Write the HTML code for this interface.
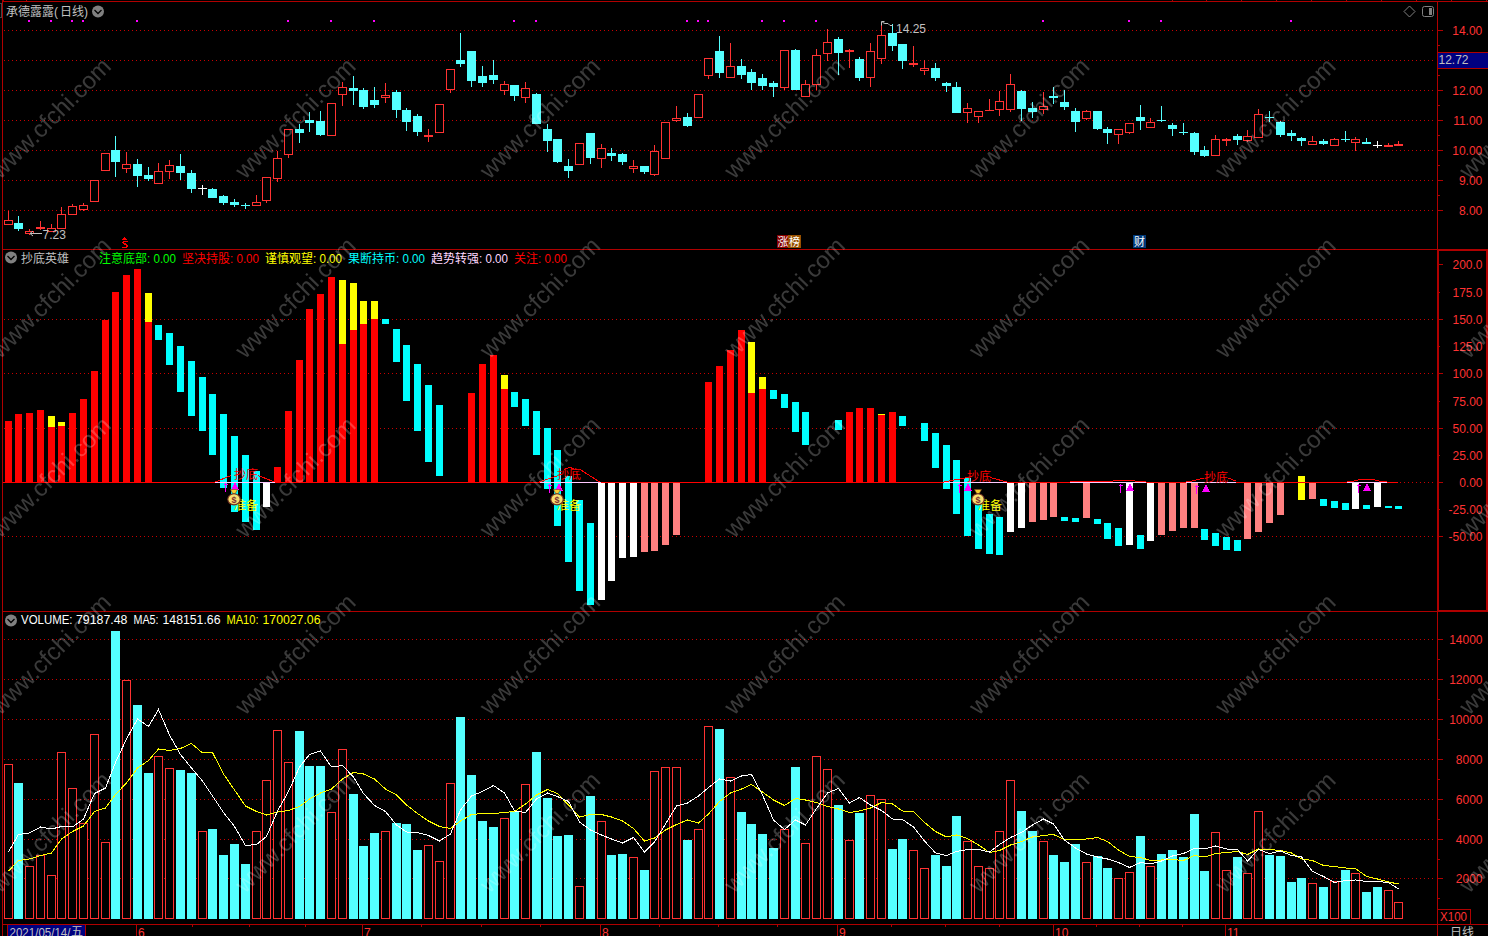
<!DOCTYPE html><html><head><meta charset="utf-8"><title>chart</title><style>html,body{margin:0;padding:0;background:#000;overflow:hidden}svg{display:block}svg text{font-family:"Liberation Sans","Noto Sans CJK SC",sans-serif}</style></head><body><svg width="1488" height="936" viewBox="0 0 1488 936" shape-rendering="crispEdges" font-family="Liberation Sans, Noto Sans CJK SC, sans-serif" font-size="12"><rect width="1488" height="936" fill="#000"/><path d="M4 30.5H1433" stroke="#c80000" stroke-width="1" stroke-dasharray="1 3" fill="none"/><path d="M4 60.5H1433" stroke="#c80000" stroke-width="1" stroke-dasharray="1 3" fill="none"/><path d="M4 90.5H1433" stroke="#c80000" stroke-width="1" stroke-dasharray="1 3" fill="none"/><path d="M4 120.5H1433" stroke="#c80000" stroke-width="1" stroke-dasharray="1 3" fill="none"/><path d="M4 150.5H1433" stroke="#c80000" stroke-width="1" stroke-dasharray="1 3" fill="none"/><path d="M4 180.5H1433" stroke="#c80000" stroke-width="1" stroke-dasharray="1 3" fill="none"/><path d="M4 210.5H1433" stroke="#c80000" stroke-width="1" stroke-dasharray="1 3" fill="none"/><path d="M4 319.5H1433" stroke="#c80000" stroke-width="1" stroke-dasharray="1 3" fill="none"/><path d="M4 373.5H1433" stroke="#c80000" stroke-width="1" stroke-dasharray="1 3" fill="none"/><path d="M4 428.5H1433" stroke="#c80000" stroke-width="1" stroke-dasharray="1 3" fill="none"/><path d="M4 536.5H1433" stroke="#c80000" stroke-width="1" stroke-dasharray="1 3" fill="none"/><path d="M4 639.5H1433" stroke="#c80000" stroke-width="1" stroke-dasharray="1 3" fill="none"/><path d="M4 679.5H1433" stroke="#c80000" stroke-width="1" stroke-dasharray="1 3" fill="none"/><path d="M4 719.5H1433" stroke="#c80000" stroke-width="1" stroke-dasharray="1 3" fill="none"/><path d="M4 759.5H1433" stroke="#c80000" stroke-width="1" stroke-dasharray="1 3" fill="none"/><path d="M4 799.5H1433" stroke="#c80000" stroke-width="1" stroke-dasharray="1 3" fill="none"/><path d="M4 839.5H1433" stroke="#c80000" stroke-width="1" stroke-dasharray="1 3" fill="none"/><path d="M4 878.5H1433" stroke="#c80000" stroke-width="1" stroke-dasharray="1 3" fill="none"/><path d="M1400 482.5H1433" stroke="#c80000" stroke-width="1" stroke-dasharray="1 3" fill="none"/><rect x="8" y="211" width="1" height="9" fill="#ff3232"/><rect x="4" y="220" width="9" height="5" fill="#ff3232"/><rect x="5" y="221" width="7" height="3" fill="#000"/><rect x="18" y="216" width="1" height="15" fill="#54ffff"/><rect x="14" y="223" width="9" height="6" fill="#54ffff"/><rect x="29" y="229" width="1" height="2" fill="#ff3232"/><rect x="29" y="234" width="1" height="1" fill="#ff3232"/><rect x="25" y="231" width="9" height="3" fill="#ff3232"/><rect x="26" y="232" width="7" height="1" fill="#000"/><rect x="40" y="221" width="1" height="9" fill="#ff3232"/><rect x="36" y="227" width="9" height="2" fill="#ff3232"/><rect x="51" y="224" width="1" height="4" fill="#ff3232"/><rect x="47" y="228" width="9" height="4" fill="#ff3232"/><rect x="48" y="229" width="7" height="2" fill="#000"/><rect x="61" y="207" width="1" height="7" fill="#ff3232"/><rect x="57" y="214" width="9" height="15" fill="#ff3232"/><rect x="58" y="215" width="7" height="13" fill="#000"/><rect x="72" y="204" width="1" height="2" fill="#ff3232"/><rect x="68" y="206" width="9" height="9" fill="#ff3232"/><rect x="69" y="207" width="7" height="7" fill="#000"/><rect x="83" y="203" width="1" height="2" fill="#ff3232"/><rect x="83" y="210" width="1" height="1" fill="#ff3232"/><rect x="79" y="205" width="9" height="5" fill="#ff3232"/><rect x="80" y="206" width="7" height="3" fill="#000"/><rect x="90" y="180" width="9" height="22" fill="#ff3232"/><rect x="91" y="181" width="7" height="20" fill="#000"/><rect x="101" y="153" width="9" height="18" fill="#ff3232"/><rect x="102" y="154" width="7" height="16" fill="#000"/><rect x="115" y="136" width="1" height="41" fill="#54ffff"/><rect x="111" y="150" width="9" height="12" fill="#54ffff"/><rect x="126" y="152" width="1" height="12" fill="#ff3232"/><rect x="126" y="169" width="1" height="4" fill="#ff3232"/><rect x="122" y="164" width="9" height="5" fill="#ff3232"/><rect x="123" y="165" width="7" height="3" fill="#000"/><rect x="137" y="159" width="1" height="28" fill="#54ffff"/><rect x="133" y="164" width="9" height="12" fill="#54ffff"/><rect x="148" y="167" width="1" height="14" fill="#54ffff"/><rect x="144" y="175" width="9" height="4" fill="#54ffff"/><rect x="158" y="163" width="1" height="8" fill="#ff3232"/><rect x="154" y="171" width="9" height="13" fill="#ff3232"/><rect x="155" y="172" width="7" height="11" fill="#000"/><rect x="169" y="160" width="1" height="5" fill="#ff3232"/><rect x="169" y="172" width="1" height="7" fill="#ff3232"/><rect x="165" y="165" width="9" height="7" fill="#ff3232"/><rect x="166" y="166" width="7" height="5" fill="#000"/><rect x="180" y="154" width="1" height="26" fill="#54ffff"/><rect x="176" y="166" width="9" height="7" fill="#54ffff"/><rect x="191" y="170" width="1" height="23" fill="#54ffff"/><rect x="187" y="173" width="9" height="16" fill="#54ffff"/><rect x="202" y="185" width="1" height="10" fill="#fff"/><rect x="198" y="188" width="9" height="1" fill="#fff"/><rect x="212" y="188" width="1" height="10" fill="#54ffff"/><rect x="208" y="189" width="9" height="9" fill="#54ffff"/><rect x="223" y="195" width="1" height="10" fill="#54ffff"/><rect x="219" y="196" width="9" height="7" fill="#54ffff"/><rect x="234" y="199" width="1" height="8" fill="#54ffff"/><rect x="230" y="202" width="9" height="3" fill="#54ffff"/><rect x="245" y="203" width="1" height="6" fill="#54ffff"/><rect x="241" y="205" width="9" height="1" fill="#54ffff"/><rect x="256" y="195" width="1" height="7" fill="#ff3232"/><rect x="252" y="202" width="9" height="4" fill="#ff3232"/><rect x="253" y="203" width="7" height="2" fill="#000"/><rect x="266" y="201" width="1" height="2" fill="#ff3232"/><rect x="262" y="177" width="9" height="24" fill="#ff3232"/><rect x="263" y="178" width="7" height="22" fill="#000"/><rect x="277" y="151" width="1" height="7" fill="#ff3232"/><rect x="277" y="179" width="1" height="3" fill="#ff3232"/><rect x="273" y="158" width="9" height="21" fill="#ff3232"/><rect x="274" y="159" width="7" height="19" fill="#000"/><rect x="288" y="155" width="1" height="3" fill="#ff3232"/><rect x="284" y="129" width="9" height="26" fill="#ff3232"/><rect x="285" y="130" width="7" height="24" fill="#000"/><rect x="299" y="124" width="1" height="19" fill="#54ffff"/><rect x="295" y="129" width="9" height="4" fill="#54ffff"/><rect x="309" y="112" width="1" height="20" fill="#54ffff"/><rect x="305" y="120" width="9" height="3" fill="#54ffff"/><rect x="320" y="111" width="1" height="25" fill="#54ffff"/><rect x="316" y="121" width="9" height="14" fill="#54ffff"/><rect x="327" y="103" width="9" height="33" fill="#ff3232"/><rect x="328" y="104" width="7" height="31" fill="#000"/><rect x="342" y="82" width="1" height="5" fill="#ff3232"/><rect x="342" y="95" width="1" height="11" fill="#ff3232"/><rect x="338" y="87" width="9" height="8" fill="#ff3232"/><rect x="339" y="88" width="7" height="6" fill="#000"/><rect x="353" y="76" width="1" height="29" fill="#54ffff"/><rect x="349" y="88" width="9" height="3" fill="#54ffff"/><rect x="363" y="88" width="1" height="21" fill="#54ffff"/><rect x="359" y="90" width="9" height="17" fill="#54ffff"/><rect x="374" y="87" width="1" height="21" fill="#54ffff"/><rect x="370" y="100" width="9" height="5" fill="#54ffff"/><rect x="385" y="83" width="1" height="12" fill="#ff3232"/><rect x="385" y="98" width="1" height="5" fill="#ff3232"/><rect x="381" y="95" width="9" height="3" fill="#ff3232"/><rect x="382" y="96" width="7" height="1" fill="#000"/><rect x="396" y="90" width="1" height="28" fill="#54ffff"/><rect x="392" y="92" width="9" height="18" fill="#54ffff"/><rect x="406" y="108" width="1" height="23" fill="#54ffff"/><rect x="402" y="110" width="9" height="12" fill="#54ffff"/><rect x="417" y="114" width="1" height="22" fill="#54ffff"/><rect x="413" y="116" width="9" height="16" fill="#54ffff"/><rect x="428" y="129" width="1" height="13" fill="#ff3232"/><rect x="424" y="135" width="9" height="2" fill="#ff3232"/><rect x="435" y="104" width="9" height="29" fill="#ff3232"/><rect x="436" y="105" width="7" height="27" fill="#000"/><rect x="450" y="90" width="1" height="3" fill="#ff3232"/><rect x="446" y="69" width="9" height="21" fill="#ff3232"/><rect x="447" y="70" width="7" height="19" fill="#000"/><rect x="460" y="33" width="1" height="34" fill="#54ffff"/><rect x="456" y="60" width="9" height="4" fill="#54ffff"/><rect x="471" y="51" width="1" height="36" fill="#54ffff"/><rect x="467" y="51" width="9" height="30" fill="#54ffff"/><rect x="482" y="66" width="1" height="21" fill="#54ffff"/><rect x="478" y="76" width="9" height="7" fill="#54ffff"/><rect x="493" y="60" width="1" height="24" fill="#54ffff"/><rect x="489" y="75" width="9" height="5" fill="#54ffff"/><rect x="504" y="81" width="1" height="3" fill="#ff3232"/><rect x="504" y="91" width="1" height="4" fill="#ff3232"/><rect x="500" y="84" width="9" height="7" fill="#ff3232"/><rect x="501" y="85" width="7" height="5" fill="#000"/><rect x="514" y="85" width="1" height="16" fill="#54ffff"/><rect x="510" y="85" width="9" height="11" fill="#54ffff"/><rect x="525" y="82" width="1" height="6" fill="#ff3232"/><rect x="525" y="98" width="1" height="5" fill="#ff3232"/><rect x="521" y="88" width="9" height="10" fill="#ff3232"/><rect x="522" y="89" width="7" height="8" fill="#000"/><rect x="536" y="93" width="1" height="31" fill="#54ffff"/><rect x="532" y="94" width="9" height="30" fill="#54ffff"/><rect x="547" y="124" width="1" height="28" fill="#54ffff"/><rect x="543" y="129" width="9" height="12" fill="#54ffff"/><rect x="557" y="139" width="1" height="24" fill="#54ffff"/><rect x="553" y="139" width="9" height="23" fill="#54ffff"/><rect x="568" y="159" width="1" height="19" fill="#54ffff"/><rect x="564" y="166" width="9" height="5" fill="#54ffff"/><rect x="575" y="143" width="9" height="22" fill="#ff3232"/><rect x="576" y="144" width="7" height="20" fill="#000"/><rect x="590" y="133" width="1" height="31" fill="#54ffff"/><rect x="586" y="133" width="9" height="25" fill="#54ffff"/><rect x="601" y="144" width="1" height="4" fill="#ff3232"/><rect x="601" y="159" width="1" height="9" fill="#ff3232"/><rect x="597" y="148" width="9" height="11" fill="#ff3232"/><rect x="598" y="149" width="7" height="9" fill="#000"/><rect x="611" y="148" width="1" height="13" fill="#54ffff"/><rect x="607" y="153" width="9" height="3" fill="#54ffff"/><rect x="622" y="153" width="1" height="12" fill="#54ffff"/><rect x="618" y="154" width="9" height="8" fill="#54ffff"/><rect x="633" y="160" width="1" height="6" fill="#ff3232"/><rect x="633" y="169" width="1" height="4" fill="#ff3232"/><rect x="629" y="166" width="9" height="3" fill="#ff3232"/><rect x="630" y="167" width="7" height="1" fill="#000"/><rect x="644" y="166" width="1" height="8" fill="#54ffff"/><rect x="640" y="166" width="9" height="6" fill="#54ffff"/><rect x="654" y="145" width="1" height="6" fill="#ff3232"/><rect x="654" y="175" width="1" height="1" fill="#ff3232"/><rect x="650" y="151" width="9" height="24" fill="#ff3232"/><rect x="651" y="152" width="7" height="22" fill="#000"/><rect x="661" y="122" width="9" height="37" fill="#ff3232"/><rect x="662" y="123" width="7" height="35" fill="#000"/><rect x="676" y="106" width="1" height="12" fill="#ff3232"/><rect x="676" y="121" width="1" height="1" fill="#ff3232"/><rect x="672" y="118" width="9" height="3" fill="#ff3232"/><rect x="673" y="119" width="7" height="1" fill="#000"/><rect x="687" y="113" width="1" height="14" fill="#54ffff"/><rect x="683" y="117" width="9" height="9" fill="#54ffff"/><rect x="694" y="94" width="9" height="24" fill="#ff3232"/><rect x="695" y="95" width="7" height="22" fill="#000"/><rect x="708" y="76" width="1" height="3" fill="#ff3232"/><rect x="704" y="58" width="9" height="18" fill="#ff3232"/><rect x="705" y="59" width="7" height="16" fill="#000"/><rect x="719" y="36" width="1" height="42" fill="#54ffff"/><rect x="715" y="51" width="9" height="22" fill="#54ffff"/><rect x="730" y="43" width="1" height="23" fill="#ff3232"/><rect x="726" y="66" width="9" height="12" fill="#ff3232"/><rect x="727" y="67" width="7" height="10" fill="#000"/><rect x="741" y="59" width="1" height="20" fill="#54ffff"/><rect x="737" y="66" width="9" height="9" fill="#54ffff"/><rect x="751" y="69" width="1" height="21" fill="#54ffff"/><rect x="747" y="72" width="9" height="11" fill="#54ffff"/><rect x="762" y="74" width="1" height="16" fill="#54ffff"/><rect x="758" y="78" width="9" height="8" fill="#54ffff"/><rect x="773" y="81" width="1" height="16" fill="#54ffff"/><rect x="769" y="83" width="9" height="4" fill="#54ffff"/><rect x="784" y="88" width="1" height="2" fill="#ff3232"/><rect x="780" y="50" width="9" height="38" fill="#ff3232"/><rect x="781" y="51" width="7" height="36" fill="#000"/><rect x="795" y="49" width="1" height="41" fill="#54ffff"/><rect x="791" y="50" width="9" height="40" fill="#54ffff"/><rect x="805" y="80" width="1" height="4" fill="#ff3232"/><rect x="801" y="84" width="9" height="13" fill="#ff3232"/><rect x="802" y="85" width="7" height="11" fill="#000"/><rect x="816" y="49" width="1" height="6" fill="#ff3232"/><rect x="816" y="85" width="1" height="5" fill="#ff3232"/><rect x="812" y="55" width="9" height="30" fill="#ff3232"/><rect x="813" y="56" width="7" height="28" fill="#000"/><rect x="827" y="29" width="1" height="13" fill="#ff3232"/><rect x="827" y="54" width="1" height="7" fill="#ff3232"/><rect x="823" y="42" width="9" height="12" fill="#ff3232"/><rect x="824" y="43" width="7" height="10" fill="#000"/><rect x="838" y="37" width="1" height="38" fill="#54ffff"/><rect x="834" y="39" width="9" height="14" fill="#54ffff"/><rect x="849" y="49" width="1" height="19" fill="#ff3232"/><rect x="845" y="50" width="9" height="2" fill="#ff3232"/><rect x="859" y="57" width="1" height="24" fill="#54ffff"/><rect x="855" y="59" width="9" height="19" fill="#54ffff"/><rect x="870" y="43" width="1" height="8" fill="#ff3232"/><rect x="870" y="78" width="1" height="9" fill="#ff3232"/><rect x="866" y="51" width="9" height="27" fill="#ff3232"/><rect x="867" y="52" width="7" height="25" fill="#000"/><rect x="881" y="22" width="1" height="13" fill="#ff3232"/><rect x="881" y="59" width="1" height="5" fill="#ff3232"/><rect x="877" y="35" width="9" height="24" fill="#ff3232"/><rect x="878" y="36" width="7" height="22" fill="#000"/><rect x="892" y="24" width="1" height="27" fill="#54ffff"/><rect x="888" y="33" width="9" height="13" fill="#54ffff"/><rect x="902" y="44" width="1" height="25" fill="#54ffff"/><rect x="898" y="44" width="9" height="17" fill="#54ffff"/><rect x="913" y="46" width="1" height="21" fill="#ff3232"/><rect x="909" y="63" width="9" height="2" fill="#ff3232"/><rect x="924" y="60" width="1" height="8" fill="#ff3232"/><rect x="924" y="71" width="1" height="4" fill="#ff3232"/><rect x="920" y="68" width="9" height="3" fill="#ff3232"/><rect x="921" y="69" width="7" height="1" fill="#000"/><rect x="935" y="63" width="1" height="18" fill="#54ffff"/><rect x="931" y="68" width="9" height="10" fill="#54ffff"/><rect x="946" y="82" width="1" height="10" fill="#54ffff"/><rect x="942" y="83" width="9" height="3" fill="#54ffff"/><rect x="956" y="82" width="1" height="31" fill="#54ffff"/><rect x="952" y="87" width="9" height="26" fill="#54ffff"/><rect x="967" y="103" width="1" height="5" fill="#ff3232"/><rect x="967" y="113" width="1" height="10" fill="#ff3232"/><rect x="963" y="108" width="9" height="5" fill="#ff3232"/><rect x="964" y="109" width="7" height="3" fill="#000"/><rect x="978" y="117" width="1" height="6" fill="#ff3232"/><rect x="974" y="111" width="9" height="6" fill="#ff3232"/><rect x="975" y="112" width="7" height="4" fill="#000"/><rect x="989" y="99" width="1" height="12" fill="#ff3232"/><rect x="985" y="110" width="9" height="1" fill="#ff3232"/><rect x="999" y="91" width="1" height="10" fill="#ff3232"/><rect x="999" y="110" width="1" height="6" fill="#ff3232"/><rect x="995" y="101" width="9" height="9" fill="#ff3232"/><rect x="996" y="102" width="7" height="7" fill="#000"/><rect x="1010" y="74" width="1" height="10" fill="#ff3232"/><rect x="1010" y="110" width="1" height="2" fill="#ff3232"/><rect x="1006" y="84" width="9" height="26" fill="#ff3232"/><rect x="1007" y="85" width="7" height="24" fill="#000"/><rect x="1021" y="90" width="1" height="31" fill="#54ffff"/><rect x="1017" y="91" width="9" height="18" fill="#54ffff"/><rect x="1032" y="102" width="1" height="16" fill="#54ffff"/><rect x="1028" y="108" width="9" height="4" fill="#54ffff"/><rect x="1043" y="92" width="1" height="14" fill="#ff3232"/><rect x="1043" y="110" width="1" height="4" fill="#ff3232"/><rect x="1039" y="106" width="9" height="4" fill="#ff3232"/><rect x="1040" y="107" width="7" height="2" fill="#000"/><rect x="1053" y="87" width="1" height="17" fill="#54ffff"/><rect x="1049" y="96" width="9" height="2" fill="#54ffff"/><rect x="1064" y="90" width="1" height="20" fill="#54ffff"/><rect x="1060" y="102" width="9" height="5" fill="#54ffff"/><rect x="1075" y="108" width="1" height="24" fill="#54ffff"/><rect x="1071" y="111" width="9" height="11" fill="#54ffff"/><rect x="1086" y="110" width="1" height="1" fill="#ff3232"/><rect x="1086" y="119" width="1" height="1" fill="#ff3232"/><rect x="1082" y="111" width="9" height="8" fill="#ff3232"/><rect x="1083" y="112" width="7" height="6" fill="#000"/><rect x="1097" y="111" width="1" height="19" fill="#54ffff"/><rect x="1093" y="111" width="9" height="18" fill="#54ffff"/><rect x="1107" y="127" width="1" height="17" fill="#54ffff"/><rect x="1103" y="129" width="9" height="4" fill="#54ffff"/><rect x="1118" y="135" width="1" height="9" fill="#ff3232"/><rect x="1114" y="129" width="9" height="6" fill="#ff3232"/><rect x="1115" y="130" width="7" height="4" fill="#000"/><rect x="1129" y="133" width="1" height="1" fill="#ff3232"/><rect x="1125" y="123" width="9" height="10" fill="#ff3232"/><rect x="1126" y="124" width="7" height="8" fill="#000"/><rect x="1140" y="105" width="1" height="25" fill="#54ffff"/><rect x="1136" y="117" width="9" height="4" fill="#54ffff"/><rect x="1150" y="118" width="1" height="4" fill="#ff3232"/><rect x="1146" y="122" width="9" height="6" fill="#ff3232"/><rect x="1147" y="123" width="7" height="4" fill="#000"/><rect x="1161" y="106" width="1" height="16" fill="#54ffff"/><rect x="1157" y="120" width="9" height="1" fill="#54ffff"/><rect x="1172" y="123" width="1" height="13" fill="#54ffff"/><rect x="1168" y="125" width="9" height="4" fill="#54ffff"/><rect x="1183" y="123" width="1" height="12" fill="#54ffff"/><rect x="1179" y="132" width="9" height="1" fill="#54ffff"/><rect x="1194" y="132" width="1" height="23" fill="#54ffff"/><rect x="1190" y="133" width="9" height="19" fill="#54ffff"/><rect x="1204" y="146" width="1" height="11" fill="#54ffff"/><rect x="1200" y="150" width="9" height="6" fill="#54ffff"/><rect x="1215" y="135" width="1" height="4" fill="#ff3232"/><rect x="1211" y="139" width="9" height="17" fill="#ff3232"/><rect x="1212" y="140" width="7" height="15" fill="#000"/><rect x="1226" y="138" width="1" height="8" fill="#ff3232"/><rect x="1222" y="139" width="9" height="2" fill="#ff3232"/><rect x="1237" y="134" width="1" height="11" fill="#54ffff"/><rect x="1233" y="136" width="9" height="4" fill="#54ffff"/><rect x="1247" y="130" width="1" height="6" fill="#ff3232"/><rect x="1247" y="141" width="1" height="1" fill="#ff3232"/><rect x="1243" y="136" width="9" height="5" fill="#ff3232"/><rect x="1244" y="137" width="7" height="3" fill="#000"/><rect x="1258" y="109" width="1" height="5" fill="#ff3232"/><rect x="1254" y="114" width="9" height="24" fill="#ff3232"/><rect x="1255" y="115" width="7" height="22" fill="#000"/><rect x="1269" y="111" width="1" height="11" fill="#54ffff"/><rect x="1265" y="117" width="9" height="1" fill="#54ffff"/><rect x="1280" y="121" width="1" height="16" fill="#54ffff"/><rect x="1276" y="122" width="9" height="13" fill="#54ffff"/><rect x="1291" y="130" width="1" height="11" fill="#54ffff"/><rect x="1287" y="133" width="9" height="3" fill="#54ffff"/><rect x="1301" y="137" width="1" height="9" fill="#54ffff"/><rect x="1297" y="138" width="9" height="3" fill="#54ffff"/><rect x="1312" y="136" width="1" height="5" fill="#ff3232"/><rect x="1308" y="141" width="9" height="4" fill="#ff3232"/><rect x="1309" y="142" width="7" height="2" fill="#000"/><rect x="1323" y="139" width="1" height="6" fill="#54ffff"/><rect x="1319" y="141" width="9" height="3" fill="#54ffff"/><rect x="1334" y="138" width="1" height="1" fill="#ff3232"/><rect x="1330" y="139" width="9" height="7" fill="#ff3232"/><rect x="1331" y="140" width="7" height="5" fill="#000"/><rect x="1345" y="131" width="1" height="11" fill="#54ffff"/><rect x="1341" y="139" width="9" height="1" fill="#54ffff"/><rect x="1355" y="137" width="1" height="2" fill="#ff3232"/><rect x="1355" y="143" width="1" height="8" fill="#ff3232"/><rect x="1351" y="139" width="9" height="4" fill="#ff3232"/><rect x="1352" y="140" width="7" height="2" fill="#000"/><rect x="1366" y="138" width="1" height="6" fill="#54ffff"/><rect x="1362" y="142" width="9" height="2" fill="#54ffff"/><rect x="1377" y="141" width="1" height="7" fill="#fff"/><rect x="1373" y="145" width="9" height="1" fill="#fff"/><rect x="1388" y="143" width="1" height="4" fill="#ff3232"/><rect x="1384" y="145" width="9" height="2" fill="#ff3232"/><rect x="1398" y="141" width="1" height="5" fill="#ff3232"/><rect x="1394" y="144" width="9" height="2" fill="#ff3232"/><rect x="28" y="20" width="2" height="2" fill="#ff00ff"/><rect x="50" y="20" width="2" height="2" fill="#ff00ff"/><rect x="71" y="20" width="2" height="2" fill="#ff00ff"/><rect x="82" y="20" width="2" height="2" fill="#ff00ff"/><rect x="136" y="20" width="2" height="2" fill="#ff00ff"/><rect x="287" y="20" width="2" height="2" fill="#ff00ff"/><rect x="330" y="20" width="2" height="2" fill="#ff00ff"/><rect x="373" y="20" width="2" height="2" fill="#ff00ff"/><rect x="513" y="20" width="2" height="2" fill="#ff00ff"/><rect x="535" y="20" width="2" height="2" fill="#ff00ff"/><rect x="686" y="20" width="2" height="2" fill="#ff00ff"/><rect x="697" y="20" width="2" height="2" fill="#ff00ff"/><rect x="707" y="20" width="2" height="2" fill="#ff00ff"/><rect x="761" y="20" width="2" height="2" fill="#ff00ff"/><rect x="783" y="20" width="2" height="2" fill="#ff00ff"/><rect x="815" y="20" width="2" height="2" fill="#ff00ff"/><rect x="1042" y="20" width="2" height="2" fill="#ff00ff"/><rect x="1128" y="20" width="2" height="2" fill="#ff00ff"/><rect x="1160" y="20" width="2" height="2" fill="#ff00ff"/><rect x="1290" y="20" width="2" height="2" fill="#ff00ff"/><rect x="5" y="421" width="7" height="61" fill="#ff0000"/><rect x="15" y="414" width="7" height="68" fill="#ff0000"/><rect x="26" y="413" width="7" height="69" fill="#ff0000"/><rect x="37" y="410" width="7" height="72" fill="#ff0000"/><rect x="48" y="416" width="7" height="11" fill="#ffff00"/><rect x="48" y="427" width="7" height="55" fill="#ff0000"/><rect x="58" y="422" width="7" height="4" fill="#ffff00"/><rect x="58" y="426" width="7" height="56" fill="#ff0000"/><rect x="69" y="413" width="7" height="69" fill="#ff0000"/><rect x="80" y="399" width="7" height="83" fill="#ff0000"/><rect x="91" y="371" width="7" height="111" fill="#ff0000"/><rect x="102" y="320" width="7" height="162" fill="#ff0000"/><rect x="112" y="292" width="7" height="190" fill="#ff0000"/><rect x="123" y="275" width="7" height="207" fill="#ff0000"/><rect x="134" y="269" width="7" height="213" fill="#ff0000"/><rect x="145" y="293" width="7" height="29" fill="#ffff00"/><rect x="145" y="322" width="7" height="160" fill="#ff0000"/><rect x="155" y="325" width="7" height="15" fill="#00ffff"/><rect x="166" y="333" width="7" height="32" fill="#00ffff"/><rect x="177" y="346" width="7" height="46" fill="#00ffff"/><rect x="188" y="361" width="7" height="55" fill="#00ffff"/><rect x="199" y="377" width="7" height="54" fill="#00ffff"/><rect x="209" y="394" width="7" height="61" fill="#00ffff"/><rect x="220" y="414" width="7" height="74" fill="#00ffff"/><rect x="231" y="436" width="7" height="76" fill="#00ffff"/><rect x="242" y="455" width="7" height="67" fill="#00ffff"/><rect x="253" y="471" width="7" height="59" fill="#00ffff"/><rect x="263" y="483" width="7" height="24" fill="#ffffff"/><rect x="274" y="467" width="7" height="15" fill="#ff0000"/><rect x="285" y="411" width="7" height="71" fill="#ff0000"/><rect x="296" y="360" width="7" height="122" fill="#ff0000"/><rect x="306" y="309" width="7" height="173" fill="#ff0000"/><rect x="317" y="294" width="7" height="188" fill="#ff0000"/><rect x="328" y="277" width="7" height="205" fill="#ff0000"/><rect x="339" y="280" width="7" height="64" fill="#ffff00"/><rect x="339" y="344" width="7" height="138" fill="#ff0000"/><rect x="350" y="283" width="7" height="47" fill="#ffff00"/><rect x="350" y="330" width="7" height="152" fill="#ff0000"/><rect x="360" y="301" width="7" height="23" fill="#ffff00"/><rect x="360" y="324" width="7" height="158" fill="#ff0000"/><rect x="371" y="301" width="7" height="18" fill="#ffff00"/><rect x="371" y="319" width="7" height="163" fill="#ff0000"/><rect x="382" y="319" width="7" height="5" fill="#00ffff"/><rect x="393" y="329" width="7" height="33" fill="#00ffff"/><rect x="403" y="345" width="7" height="56" fill="#00ffff"/><rect x="414" y="364" width="7" height="67" fill="#00ffff"/><rect x="425" y="385" width="7" height="77" fill="#00ffff"/><rect x="436" y="405" width="7" height="71" fill="#00ffff"/><rect x="468" y="393" width="7" height="89" fill="#ff0000"/><rect x="479" y="364" width="7" height="118" fill="#ff0000"/><rect x="490" y="355" width="7" height="127" fill="#ff0000"/><rect x="501" y="375" width="7" height="14" fill="#ffff00"/><rect x="501" y="389" width="7" height="93" fill="#ff0000"/><rect x="511" y="392" width="7" height="15" fill="#00ffff"/><rect x="522" y="399" width="7" height="27" fill="#00ffff"/><rect x="533" y="411" width="7" height="44" fill="#00ffff"/><rect x="544" y="428" width="7" height="61" fill="#00ffff"/><rect x="554" y="450" width="7" height="76" fill="#00ffff"/><rect x="565" y="476" width="7" height="86" fill="#00ffff"/><rect x="576" y="500" width="7" height="91" fill="#00ffff"/><rect x="587" y="523" width="7" height="82" fill="#00ffff"/><rect x="598" y="483" width="7" height="117" fill="#ffffff"/><rect x="608" y="483" width="7" height="98" fill="#ffffff"/><rect x="619" y="483" width="7" height="75" fill="#ffffff"/><rect x="630" y="483" width="7" height="74" fill="#ffffff"/><rect x="641" y="483" width="7" height="69" fill="#ff8080"/><rect x="651" y="483" width="7" height="68" fill="#ff8080"/><rect x="662" y="483" width="7" height="62" fill="#ff8080"/><rect x="673" y="483" width="7" height="52" fill="#ff8080"/><rect x="705" y="382" width="7" height="100" fill="#ff0000"/><rect x="716" y="366" width="7" height="116" fill="#ff0000"/><rect x="727" y="350" width="7" height="132" fill="#ff0000"/><rect x="738" y="330" width="7" height="152" fill="#ff0000"/><rect x="748" y="342" width="7" height="51" fill="#ffff00"/><rect x="748" y="393" width="7" height="89" fill="#ff0000"/><rect x="759" y="377" width="7" height="12" fill="#ffff00"/><rect x="759" y="389" width="7" height="93" fill="#ff0000"/><rect x="770" y="390" width="7" height="9" fill="#00ffff"/><rect x="781" y="394" width="7" height="14" fill="#00ffff"/><rect x="792" y="402" width="7" height="30" fill="#00ffff"/><rect x="802" y="412" width="7" height="33" fill="#00ffff"/><rect x="835" y="420" width="7" height="10" fill="#00ffff"/><rect x="846" y="412" width="7" height="70" fill="#ff0000"/><rect x="856" y="408" width="7" height="74" fill="#ff0000"/><rect x="867" y="408" width="7" height="74" fill="#ff0000"/><rect x="878" y="414" width="7" height="1" fill="#ffff00"/><rect x="878" y="415" width="7" height="67" fill="#ff0000"/><rect x="889" y="412" width="7" height="70" fill="#ff0000"/><rect x="899" y="416" width="7" height="10" fill="#00ffff"/><rect x="921" y="423" width="7" height="18" fill="#00ffff"/><rect x="932" y="433" width="7" height="35" fill="#00ffff"/><rect x="943" y="445" width="7" height="44" fill="#00ffff"/><rect x="953" y="460" width="7" height="54" fill="#00ffff"/><rect x="964" y="478" width="7" height="58" fill="#00ffff"/><rect x="975" y="497" width="7" height="52" fill="#00ffff"/><rect x="986" y="514" width="7" height="40" fill="#00ffff"/><rect x="996" y="517" width="7" height="38" fill="#00ffff"/><rect x="1007" y="483" width="7" height="49" fill="#ffffff"/><rect x="1018" y="483" width="7" height="45" fill="#ffffff"/><rect x="1029" y="483" width="7" height="39" fill="#ff8080"/><rect x="1040" y="483" width="7" height="37" fill="#ff8080"/><rect x="1050" y="483" width="7" height="34" fill="#ff8080"/><rect x="1061" y="517" width="7" height="4" fill="#00ffff"/><rect x="1072" y="518" width="7" height="4" fill="#00ffff"/><rect x="1083" y="483" width="7" height="35" fill="#ff8080"/><rect x="1094" y="519" width="7" height="5" fill="#00ffff"/><rect x="1104" y="523" width="7" height="16" fill="#00ffff"/><rect x="1115" y="528" width="7" height="18" fill="#00ffff"/><rect x="1126" y="483" width="7" height="62" fill="#ffffff"/><rect x="1137" y="535" width="7" height="14" fill="#00ffff"/><rect x="1147" y="483" width="7" height="58" fill="#ffffff"/><rect x="1158" y="483" width="7" height="52" fill="#ff8080"/><rect x="1169" y="483" width="7" height="48" fill="#ff8080"/><rect x="1180" y="483" width="7" height="45" fill="#ff8080"/><rect x="1191" y="483" width="7" height="45" fill="#ff8080"/><rect x="1201" y="529" width="7" height="11" fill="#00ffff"/><rect x="1212" y="533" width="7" height="13" fill="#00ffff"/><rect x="1223" y="537" width="7" height="13" fill="#00ffff"/><rect x="1234" y="540" width="7" height="11" fill="#00ffff"/><rect x="1244" y="483" width="7" height="56" fill="#ff8080"/><rect x="1255" y="483" width="7" height="49" fill="#ff8080"/><rect x="1266" y="483" width="7" height="40" fill="#ff8080"/><rect x="1277" y="483" width="7" height="32" fill="#ff8080"/><rect x="1298" y="476" width="7" height="24" fill="#ffff00"/><rect x="1309" y="483" width="7" height="16" fill="#ff8080"/><rect x="1320" y="499" width="7" height="7" fill="#00ffff"/><rect x="1331" y="501" width="7" height="7" fill="#00ffff"/><rect x="1342" y="503" width="7" height="7" fill="#00ffff"/><rect x="1352" y="483" width="7" height="26" fill="#ffffff"/><rect x="1363" y="505" width="7" height="4" fill="#00ffff"/><rect x="1374" y="483" width="7" height="24" fill="#ffffff"/><rect x="1385" y="506" width="7" height="2" fill="#00ffff"/><rect x="1395" y="506" width="7" height="3" fill="#00ffff"/><rect x="3" y="482" width="1395" height="1" fill="#ff0000"/><rect x="4" y="764" width="9" height="155" fill="#ff3232"/><rect x="5" y="765" width="7" height="153" fill="#000"/><rect x="14" y="783" width="9" height="136" fill="#54ffff"/><rect x="25" y="866" width="9" height="53" fill="#ff3232"/><rect x="26" y="867" width="7" height="51" fill="#000"/><rect x="36" y="855" width="9" height="64" fill="#ff3232"/><rect x="37" y="856" width="7" height="62" fill="#000"/><rect x="47" y="875" width="9" height="44" fill="#ff3232"/><rect x="48" y="876" width="7" height="42" fill="#000"/><rect x="57" y="752" width="9" height="167" fill="#ff3232"/><rect x="58" y="753" width="7" height="165" fill="#000"/><rect x="68" y="788" width="9" height="131" fill="#ff3232"/><rect x="69" y="789" width="7" height="129" fill="#000"/><rect x="79" y="823" width="9" height="96" fill="#ff3232"/><rect x="80" y="824" width="7" height="94" fill="#000"/><rect x="90" y="734" width="9" height="185" fill="#ff3232"/><rect x="91" y="735" width="7" height="183" fill="#000"/><rect x="101" y="842" width="9" height="77" fill="#ff3232"/><rect x="102" y="843" width="7" height="75" fill="#000"/><rect x="111" y="631" width="9" height="288" fill="#54ffff"/><rect x="122" y="680" width="9" height="239" fill="#ff3232"/><rect x="123" y="681" width="7" height="237" fill="#000"/><rect x="133" y="705" width="9" height="214" fill="#54ffff"/><rect x="144" y="773" width="9" height="146" fill="#54ffff"/><rect x="154" y="756" width="9" height="163" fill="#ff3232"/><rect x="155" y="757" width="7" height="161" fill="#000"/><rect x="165" y="768" width="9" height="151" fill="#ff3232"/><rect x="166" y="769" width="7" height="149" fill="#000"/><rect x="176" y="770" width="9" height="149" fill="#54ffff"/><rect x="187" y="773" width="9" height="146" fill="#54ffff"/><rect x="198" y="831" width="9" height="88" fill="#ff3232"/><rect x="199" y="832" width="7" height="86" fill="#000"/><rect x="208" y="829" width="9" height="90" fill="#54ffff"/><rect x="219" y="855" width="9" height="64" fill="#54ffff"/><rect x="230" y="844" width="9" height="75" fill="#54ffff"/><rect x="241" y="864" width="9" height="55" fill="#54ffff"/><rect x="252" y="831" width="9" height="88" fill="#ff3232"/><rect x="253" y="832" width="7" height="86" fill="#000"/><rect x="262" y="780" width="9" height="139" fill="#ff3232"/><rect x="263" y="781" width="7" height="137" fill="#000"/><rect x="273" y="730" width="9" height="189" fill="#ff3232"/><rect x="274" y="731" width="7" height="187" fill="#000"/><rect x="284" y="762" width="9" height="157" fill="#ff3232"/><rect x="285" y="763" width="7" height="155" fill="#000"/><rect x="295" y="731" width="9" height="188" fill="#54ffff"/><rect x="305" y="766" width="9" height="153" fill="#54ffff"/><rect x="316" y="766" width="9" height="153" fill="#54ffff"/><rect x="327" y="812" width="9" height="107" fill="#ff3232"/><rect x="328" y="813" width="7" height="105" fill="#000"/><rect x="338" y="749" width="9" height="170" fill="#ff3232"/><rect x="339" y="750" width="7" height="168" fill="#000"/><rect x="349" y="794" width="9" height="125" fill="#54ffff"/><rect x="359" y="846" width="9" height="73" fill="#54ffff"/><rect x="370" y="833" width="9" height="86" fill="#54ffff"/><rect x="381" y="831" width="9" height="88" fill="#ff3232"/><rect x="382" y="832" width="7" height="86" fill="#000"/><rect x="392" y="823" width="9" height="96" fill="#54ffff"/><rect x="402" y="824" width="9" height="95" fill="#54ffff"/><rect x="413" y="850" width="9" height="69" fill="#54ffff"/><rect x="424" y="845" width="9" height="74" fill="#ff3232"/><rect x="425" y="846" width="7" height="72" fill="#000"/><rect x="435" y="861" width="9" height="58" fill="#ff3232"/><rect x="436" y="862" width="7" height="56" fill="#000"/><rect x="446" y="783" width="9" height="136" fill="#ff3232"/><rect x="447" y="784" width="7" height="134" fill="#000"/><rect x="456" y="717" width="9" height="202" fill="#54ffff"/><rect x="467" y="775" width="9" height="144" fill="#54ffff"/><rect x="478" y="821" width="9" height="98" fill="#54ffff"/><rect x="489" y="827" width="9" height="92" fill="#54ffff"/><rect x="500" y="818" width="9" height="101" fill="#ff3232"/><rect x="501" y="819" width="7" height="99" fill="#000"/><rect x="510" y="811" width="9" height="108" fill="#54ffff"/><rect x="521" y="784" width="9" height="135" fill="#ff3232"/><rect x="522" y="785" width="7" height="133" fill="#000"/><rect x="532" y="752" width="9" height="167" fill="#54ffff"/><rect x="543" y="798" width="9" height="121" fill="#54ffff"/><rect x="553" y="836" width="9" height="83" fill="#54ffff"/><rect x="564" y="835" width="9" height="84" fill="#54ffff"/><rect x="575" y="886" width="9" height="33" fill="#ff3232"/><rect x="576" y="887" width="7" height="31" fill="#000"/><rect x="586" y="796" width="9" height="123" fill="#54ffff"/><rect x="597" y="821" width="9" height="98" fill="#ff3232"/><rect x="598" y="822" width="7" height="96" fill="#000"/><rect x="607" y="855" width="9" height="64" fill="#54ffff"/><rect x="618" y="854" width="9" height="65" fill="#54ffff"/><rect x="629" y="857" width="9" height="62" fill="#ff3232"/><rect x="630" y="858" width="7" height="60" fill="#000"/><rect x="640" y="870" width="9" height="49" fill="#54ffff"/><rect x="650" y="771" width="9" height="148" fill="#ff3232"/><rect x="651" y="772" width="7" height="146" fill="#000"/><rect x="661" y="767" width="9" height="152" fill="#ff3232"/><rect x="662" y="768" width="7" height="150" fill="#000"/><rect x="672" y="767" width="9" height="152" fill="#ff3232"/><rect x="673" y="768" width="7" height="150" fill="#000"/><rect x="683" y="840" width="9" height="79" fill="#54ffff"/><rect x="694" y="829" width="9" height="90" fill="#ff3232"/><rect x="695" y="830" width="7" height="88" fill="#000"/><rect x="704" y="726" width="9" height="193" fill="#ff3232"/><rect x="705" y="727" width="7" height="191" fill="#000"/><rect x="715" y="729" width="9" height="190" fill="#54ffff"/><rect x="726" y="777" width="9" height="142" fill="#ff3232"/><rect x="727" y="778" width="7" height="140" fill="#000"/><rect x="737" y="812" width="9" height="107" fill="#54ffff"/><rect x="747" y="824" width="9" height="95" fill="#54ffff"/><rect x="758" y="834" width="9" height="85" fill="#54ffff"/><rect x="769" y="848" width="9" height="71" fill="#54ffff"/><rect x="780" y="829" width="9" height="90" fill="#ff3232"/><rect x="781" y="830" width="7" height="88" fill="#000"/><rect x="791" y="767" width="9" height="152" fill="#54ffff"/><rect x="801" y="843" width="9" height="76" fill="#ff3232"/><rect x="802" y="844" width="7" height="74" fill="#000"/><rect x="812" y="756" width="9" height="163" fill="#ff3232"/><rect x="813" y="757" width="7" height="161" fill="#000"/><rect x="823" y="769" width="9" height="150" fill="#ff3232"/><rect x="824" y="770" width="7" height="148" fill="#000"/><rect x="834" y="805" width="9" height="114" fill="#54ffff"/><rect x="845" y="840" width="9" height="79" fill="#ff3232"/><rect x="846" y="841" width="7" height="77" fill="#000"/><rect x="855" y="813" width="9" height="106" fill="#54ffff"/><rect x="866" y="795" width="9" height="124" fill="#ff3232"/><rect x="867" y="796" width="7" height="122" fill="#000"/><rect x="877" y="799" width="9" height="120" fill="#ff3232"/><rect x="878" y="800" width="7" height="118" fill="#000"/><rect x="888" y="849" width="9" height="70" fill="#54ffff"/><rect x="898" y="839" width="9" height="80" fill="#54ffff"/><rect x="909" y="850" width="9" height="69" fill="#ff3232"/><rect x="910" y="851" width="7" height="67" fill="#000"/><rect x="920" y="868" width="9" height="51" fill="#ff3232"/><rect x="921" y="869" width="7" height="49" fill="#000"/><rect x="931" y="855" width="9" height="64" fill="#54ffff"/><rect x="942" y="866" width="9" height="53" fill="#54ffff"/><rect x="952" y="816" width="9" height="103" fill="#54ffff"/><rect x="963" y="841" width="9" height="78" fill="#ff3232"/><rect x="964" y="842" width="7" height="76" fill="#000"/><rect x="974" y="866" width="9" height="53" fill="#ff3232"/><rect x="975" y="867" width="7" height="51" fill="#000"/><rect x="985" y="868" width="9" height="51" fill="#ff3232"/><rect x="986" y="869" width="7" height="49" fill="#000"/><rect x="995" y="831" width="9" height="88" fill="#ff3232"/><rect x="996" y="832" width="7" height="86" fill="#000"/><rect x="1006" y="780" width="9" height="139" fill="#ff3232"/><rect x="1007" y="781" width="7" height="137" fill="#000"/><rect x="1017" y="811" width="9" height="108" fill="#54ffff"/><rect x="1028" y="831" width="9" height="88" fill="#54ffff"/><rect x="1039" y="841" width="9" height="78" fill="#ff3232"/><rect x="1040" y="842" width="7" height="76" fill="#000"/><rect x="1049" y="855" width="9" height="64" fill="#54ffff"/><rect x="1060" y="862" width="9" height="57" fill="#54ffff"/><rect x="1071" y="844" width="9" height="75" fill="#54ffff"/><rect x="1082" y="862" width="9" height="57" fill="#ff3232"/><rect x="1083" y="863" width="7" height="55" fill="#000"/><rect x="1093" y="856" width="9" height="63" fill="#54ffff"/><rect x="1103" y="868" width="9" height="51" fill="#54ffff"/><rect x="1114" y="878" width="9" height="41" fill="#ff3232"/><rect x="1115" y="879" width="7" height="39" fill="#000"/><rect x="1125" y="872" width="9" height="47" fill="#ff3232"/><rect x="1126" y="873" width="7" height="45" fill="#000"/><rect x="1136" y="836" width="9" height="83" fill="#54ffff"/><rect x="1146" y="866" width="9" height="53" fill="#ff3232"/><rect x="1147" y="867" width="7" height="51" fill="#000"/><rect x="1157" y="854" width="9" height="65" fill="#54ffff"/><rect x="1168" y="850" width="9" height="69" fill="#54ffff"/><rect x="1179" y="857" width="9" height="62" fill="#54ffff"/><rect x="1190" y="814" width="9" height="105" fill="#54ffff"/><rect x="1200" y="871" width="9" height="48" fill="#54ffff"/><rect x="1211" y="832" width="9" height="87" fill="#ff3232"/><rect x="1212" y="833" width="7" height="85" fill="#000"/><rect x="1222" y="870" width="9" height="49" fill="#ff3232"/><rect x="1223" y="871" width="7" height="47" fill="#000"/><rect x="1233" y="857" width="9" height="62" fill="#54ffff"/><rect x="1243" y="873" width="9" height="46" fill="#ff3232"/><rect x="1244" y="874" width="7" height="44" fill="#000"/><rect x="1254" y="811" width="9" height="108" fill="#ff3232"/><rect x="1255" y="812" width="7" height="106" fill="#000"/><rect x="1265" y="855" width="9" height="64" fill="#54ffff"/><rect x="1276" y="856" width="9" height="63" fill="#54ffff"/><rect x="1287" y="882" width="9" height="37" fill="#54ffff"/><rect x="1297" y="878" width="9" height="41" fill="#54ffff"/><rect x="1308" y="883" width="9" height="36" fill="#ff3232"/><rect x="1309" y="884" width="7" height="34" fill="#000"/><rect x="1319" y="887" width="9" height="32" fill="#54ffff"/><rect x="1330" y="881" width="9" height="38" fill="#ff3232"/><rect x="1331" y="882" width="7" height="36" fill="#000"/><rect x="1341" y="870" width="9" height="49" fill="#54ffff"/><rect x="1351" y="873" width="9" height="46" fill="#ff3232"/><rect x="1352" y="874" width="7" height="44" fill="#000"/><rect x="1362" y="892" width="9" height="27" fill="#54ffff"/><rect x="1373" y="887" width="9" height="32" fill="#54ffff"/><rect x="1384" y="890" width="9" height="29" fill="#ff3232"/><rect x="1385" y="891" width="7" height="27" fill="#000"/><rect x="1394" y="902" width="9" height="17" fill="#ff3232"/><rect x="1395" y="903" width="7" height="15" fill="#000"/><polyline points="8.5,871 18.5,860.5 29.5,859 40.5,855.5 51.5,853 61.5,839 72.5,831.5 83.5,826 94.5,811.5 105.5,808 115.5,794.5 126.5,783 137.5,768 148.5,760.5 158.5,749 169.5,750.5 180.5,748.5 191.5,743.5 202.5,753 212.5,752.5 223.5,774 234.5,790 245.5,806 256.5,811.5 266.5,815 277.5,812 288.5,810.5 299.5,806.5 309.5,799 320.5,793 331.5,789 342.5,779 353.5,772.5 363.5,774 374.5,779 385.5,789 396.5,795 406.5,805 417.5,813.5 428.5,821 439.5,826.5 450.5,828.5 460.5,821 471.5,814.5 482.5,813.5 493.5,813.5 504.5,812.5 514.5,811.5 525.5,804 536.5,795 547.5,789.5 557.5,793.5 568.5,805 579.5,817 590.5,814.5 601.5,814.5 611.5,817 622.5,821 633.5,828.5 644.5,841 654.5,838 665.5,830 676.5,824.5 687.5,820 698.5,823 708.5,814 719.5,801.5 730.5,793 741.5,789 751.5,784.5 762.5,792 773.5,800 784.5,805.5 795.5,798.5 805.5,800 816.5,802.5 827.5,806.5 838.5,809 849.5,812.5 859.5,811 870.5,808 881.5,802.5 892.5,804 902.5,811 913.5,811.5 924.5,822.5 935.5,831.5 946.5,837 956.5,835 967.5,838.5 978.5,845 989.5,852.5 999.5,850.5 1010.5,845 1021.5,841.5 1032.5,837 1043.5,835.5 1053.5,834.5 1064.5,839.5 1075.5,839.5 1086.5,839 1097.5,837.5 1107.5,841.5 1118.5,850 1129.5,856.5 1140.5,857.5 1150.5,860.5 1161.5,860 1172.5,859.5 1183.5,860.5 1194.5,855.5 1204.5,857 1215.5,853.5 1226.5,852.5 1237.5,851.5 1247.5,854.5 1258.5,849 1269.5,849.5 1280.5,850.5 1291.5,853 1301.5,859 1312.5,860.5 1323.5,865.5 1334.5,866.5 1345.5,868 1355.5,868.5 1366.5,876.5 1377.5,879 1388.5,882 1398.5,884" fill="none" stroke="#ffff00" stroke-width="1" shape-rendering="crispEdges"/><polyline points="8.5,852 18.5,834.5 29.5,833 40.5,827 51.5,829 61.5,826.5 72.5,827 83.5,819 94.5,793.5 105.5,788 115.5,762.5 126.5,739 137.5,719 148.5,726.5 158.5,709.5 169.5,735 180.5,754.5 191.5,768 202.5,781 212.5,796 223.5,812.5 234.5,826.5 245.5,845.5 256.5,844.5 266.5,836.5 277.5,811 288.5,791.5 299.5,767 309.5,754.5 320.5,751 331.5,767 342.5,765.5 353.5,777 363.5,793.5 374.5,805.5 385.5,811.5 396.5,825 406.5,832 417.5,832.5 428.5,835.5 439.5,841 450.5,834 460.5,810 471.5,796 482.5,791.5 493.5,785.5 504.5,793 514.5,811 525.5,812.5 536.5,799 547.5,793 557.5,796.5 568.5,801.5 579.5,822 590.5,830 601.5,835 611.5,839 622.5,843 633.5,837.5 644.5,852 654.5,842 665.5,824 676.5,806 687.5,803 698.5,796 708.5,787.5 719.5,779 730.5,781 741.5,776 751.5,774.5 762.5,795 773.5,820 784.5,829.5 795.5,820 805.5,825 816.5,808.5 827.5,793 838.5,788.5 849.5,803 859.5,797.5 870.5,805 881.5,810.5 892.5,819 902.5,819.5 913.5,827 924.5,841 935.5,853 946.5,855.5 956.5,851.5 967.5,849.5 978.5,849.5 989.5,852 999.5,844.5 1010.5,837.5 1021.5,832.5 1032.5,825 1043.5,819 1053.5,824 1064.5,840 1075.5,848 1086.5,854 1097.5,857 1107.5,859 1118.5,862.5 1129.5,867.5 1140.5,862.5 1150.5,864 1161.5,861 1172.5,856 1183.5,853.5 1194.5,848.5 1204.5,849 1215.5,846 1226.5,849 1237.5,849.5 1247.5,861 1258.5,849.5 1269.5,853.5 1280.5,851 1291.5,855.5 1301.5,857 1312.5,871.5 1323.5,876.5 1334.5,882.5 1345.5,880.5 1355.5,880 1366.5,881.5 1377.5,881.5 1388.5,882.5 1398.5,889" fill="none" stroke="#ffffff" stroke-width="1" shape-rendering="crispEdges"/><rect x="2" y="1" width="1486" height="1" fill="#b00000"/><rect x="2" y="0" width="2" height="1" fill="#b00000"/><rect x="26" y="0" width="1" height="1" fill="#b00000"/><rect x="1172" y="0" width="1" height="1" fill="#b00000"/><rect x="1206" y="0" width="1" height="1" fill="#b00000"/><rect x="1241" y="0" width="1" height="1" fill="#b00000"/><rect x="1276" y="0" width="1" height="1" fill="#b00000"/><rect x="1311" y="0" width="1" height="1" fill="#b00000"/><rect x="1346" y="0" width="1" height="1" fill="#b00000"/><rect x="1381" y="0" width="1" height="1" fill="#b00000"/><rect x="1416" y="0" width="1" height="1" fill="#b00000"/><rect x="1451" y="0" width="1" height="1" fill="#b00000"/><rect x="1486" y="0" width="1" height="1" fill="#b00000"/><rect x="2" y="1" width="1" height="935" fill="#b00000"/><rect x="2" y="249" width="1436" height="1" fill="#b00000"/><rect x="2" y="611" width="1486" height="1" fill="#b00000"/><rect x="2" y="924" width="1486" height="1" fill="#b00000"/><rect x="1437" y="1" width="1" height="935" fill="#b00000"/><rect x="1437" y="249" width="51" height="2" fill="#b00000"/><rect x="1437" y="249" width="2" height="363" fill="#b00000"/><rect x="1486" y="249" width="2" height="363" fill="#b00000"/><rect x="1437" y="610" width="51" height="2" fill="#b00000"/><rect x="0" y="3" width="2" height="1" fill="#404848"/><rect x="0" y="17" width="2" height="1" fill="#404848"/><rect x="1" y="3" width="1" height="15" fill="#404848"/><rect x="1438" y="30" width="5" height="1" fill="#b00000"/><rect x="1438" y="60" width="5" height="1" fill="#b00000"/><rect x="1438" y="90" width="5" height="1" fill="#b00000"/><rect x="1438" y="120" width="5" height="1" fill="#b00000"/><rect x="1438" y="150" width="5" height="1" fill="#b00000"/><rect x="1438" y="180" width="5" height="1" fill="#b00000"/><rect x="1438" y="210" width="5" height="1" fill="#b00000"/><rect x="1438" y="45" width="2" height="1" fill="#b00000"/><rect x="1438" y="75" width="2" height="1" fill="#b00000"/><rect x="1438" y="105" width="2" height="1" fill="#b00000"/><rect x="1438" y="135" width="2" height="1" fill="#b00000"/><rect x="1438" y="165" width="2" height="1" fill="#b00000"/><rect x="1438" y="195" width="2" height="1" fill="#b00000"/><rect x="1439" y="264" width="4" height="1" fill="#b00000"/><rect x="1439" y="292" width="1" height="1" fill="#b00000"/><rect x="1439" y="319" width="4" height="1" fill="#b00000"/><rect x="1439" y="346" width="1" height="1" fill="#b00000"/><rect x="1439" y="373" width="4" height="1" fill="#b00000"/><rect x="1439" y="401" width="1" height="1" fill="#b00000"/><rect x="1439" y="428" width="4" height="1" fill="#b00000"/><rect x="1439" y="455" width="1" height="1" fill="#b00000"/><rect x="1439" y="482" width="4" height="1" fill="#b00000"/><rect x="1439" y="509" width="1" height="1" fill="#b00000"/><rect x="1439" y="536" width="4" height="1" fill="#b00000"/><rect x="1438" y="639" width="5" height="1" fill="#b00000"/><rect x="1438" y="679" width="5" height="1" fill="#b00000"/><rect x="1438" y="719" width="5" height="1" fill="#b00000"/><rect x="1438" y="759" width="5" height="1" fill="#b00000"/><rect x="1438" y="799" width="5" height="1" fill="#b00000"/><rect x="1438" y="839" width="5" height="1" fill="#b00000"/><rect x="1438" y="878" width="5" height="1" fill="#b00000"/><rect x="1438" y="659" width="2" height="1" fill="#b00000"/><rect x="1438" y="699" width="2" height="1" fill="#b00000"/><rect x="1438" y="739" width="2" height="1" fill="#b00000"/><rect x="1438" y="779" width="2" height="1" fill="#b00000"/><rect x="1438" y="819" width="2" height="1" fill="#b00000"/><rect x="1438" y="859" width="2" height="1" fill="#b00000"/><rect x="1438" y="898" width="2" height="1" fill="#b00000"/><text x="1482.3" y="35" fill="#ff3232" text-anchor="end">14.00</text><text x="1482.3" y="95" fill="#ff3232" text-anchor="end">12.00</text><text x="1482.3" y="125" fill="#ff3232" text-anchor="end">11.00</text><text x="1482.3" y="155" fill="#ff3232" text-anchor="end">10.00</text><text x="1482.3" y="185" fill="#ff3232" text-anchor="end">9.00</text><text x="1482.3" y="215" fill="#ff3232" text-anchor="end">8.00</text><rect x="1438" y="52" width="50" height="17" fill="#000080"/><rect x="1438" y="52" width="50" height="1" fill="#b00000"/><rect x="1438" y="68" width="50" height="1" fill="#b00000"/><text x="1438.5" y="64" fill="#c0c0c0" text-anchor="start">12.72</text><text x="1482.5" y="269" fill="#ff3232" text-anchor="end">200.0</text><text x="1482.5" y="297" fill="#ff3232" text-anchor="end">175.0</text><text x="1482.5" y="324" fill="#ff3232" text-anchor="end">150.0</text><text x="1482.5" y="351" fill="#ff3232" text-anchor="end">125.0</text><text x="1482.5" y="378" fill="#ff3232" text-anchor="end">100.0</text><text x="1482.5" y="406" fill="#ff3232" text-anchor="end">75.00</text><text x="1482.5" y="433" fill="#ff3232" text-anchor="end">50.00</text><text x="1482.5" y="460" fill="#ff3232" text-anchor="end">25.00</text><text x="1482.5" y="487" fill="#ff3232" text-anchor="end">0.00</text><text x="1482.5" y="514" fill="#ff3232" text-anchor="end">-25.00</text><text x="1482.5" y="541" fill="#ff3232" text-anchor="end">-50.00</text><text x="1482.5" y="644" fill="#ff3232" text-anchor="end">14000</text><text x="1482.5" y="684" fill="#ff3232" text-anchor="end">12000</text><text x="1482.5" y="724" fill="#ff3232" text-anchor="end">10000</text><text x="1482.5" y="764" fill="#ff3232" text-anchor="end">8000</text><text x="1482.5" y="804" fill="#ff3232" text-anchor="end">6000</text><text x="1482.5" y="844" fill="#ff3232" text-anchor="end">4000</text><text x="1482.5" y="883" fill="#ff3232" text-anchor="end">2000</text><rect x="1438" y="909" width="33" height="1" fill="#b00000"/><rect x="1470" y="909" width="1" height="15" fill="#b00000"/><text x="1440" y="921" fill="#ff3232" text-anchor="start" textLength="27" lengthAdjust="spacingAndGlyphs">X100</text><text x="1450" y="936.5" font-size="12" fill="#c0c0c0" text-anchor="start">日线</text><rect x="8" y="925" width="77" height="11" fill="#000080"/><rect x="7" y="925" width="1" height="11" fill="#b00000"/><rect x="85" y="925" width="1" height="11" fill="#b00000"/><text x="9.5" y="936.5" fill="#c0c0c0" text-anchor="start" textLength="61" lengthAdjust="spacingAndGlyphs">2021/05/14/</text><text x="71" y="936" font-size="12" fill="#c0c0c0" text-anchor="start">五</text><rect x="136" y="925" width="1" height="11" fill="#b00000"/><text x="138" y="936.5" fill="#ff3232" text-anchor="start">6</text><rect x="362" y="925" width="1" height="11" fill="#b00000"/><text x="364" y="936.5" fill="#ff3232" text-anchor="start">7</text><rect x="600" y="925" width="1" height="11" fill="#b00000"/><text x="602" y="936.5" fill="#ff3232" text-anchor="start">8</text><rect x="837" y="925" width="1" height="11" fill="#b00000"/><text x="839" y="936.5" fill="#ff3232" text-anchor="start">9</text><rect x="1053" y="925" width="1" height="11" fill="#b00000"/><text x="1055" y="936.5" fill="#ff3232" text-anchor="start">10</text><rect x="1225" y="925" width="1" height="11" fill="#b00000"/><text x="1227" y="936.5" fill="#ff3232" text-anchor="start">11</text><rect x="192" y="925" width="1" height="2" fill="#b00000"/><rect x="249" y="925" width="1" height="2" fill="#b00000"/><rect x="305" y="925" width="1" height="2" fill="#b00000"/><rect x="421" y="925" width="1" height="2" fill="#b00000"/><rect x="481" y="925" width="1" height="2" fill="#b00000"/><rect x="540" y="925" width="1" height="2" fill="#b00000"/><rect x="659" y="925" width="1" height="2" fill="#b00000"/><rect x="718" y="925" width="1" height="2" fill="#b00000"/><rect x="777" y="925" width="1" height="2" fill="#b00000"/><rect x="891" y="925" width="1" height="2" fill="#b00000"/><rect x="945" y="925" width="1" height="2" fill="#b00000"/><rect x="999" y="925" width="1" height="2" fill="#b00000"/><rect x="1096" y="925" width="1" height="2" fill="#b00000"/><rect x="1139" y="925" width="1" height="2" fill="#b00000"/><rect x="1182" y="925" width="1" height="2" fill="#b00000"/><text x="6" y="15.5" font-size="12" fill="#c0c0c0" text-anchor="start">承德露露</text><text x="54" y="15.5" fill="#c0c0c0" text-anchor="start">(</text><text x="60" y="15.5" font-size="12" fill="#c0c0c0" text-anchor="start">日线</text><text x="84" y="15.5" fill="#c0c0c0" text-anchor="start">)</text><circle cx="98" cy="11.5" r="6" fill="#808080" shape-rendering="auto"/><path d="M94.5 10.0L98 13.5L101.5 10.0" stroke="#000" stroke-width="1.3" fill="none" shape-rendering="auto"/><circle cx="11" cy="257.5" r="6" fill="#808080" shape-rendering="auto"/><path d="M7.5 256.0L11 259.5L14.5 256.0" stroke="#000" stroke-width="1.3" fill="none" shape-rendering="auto"/><circle cx="11" cy="620.5" r="6" fill="#808080" shape-rendering="auto"/><path d="M7.5 619.0L11 622.5L14.5 619.0" stroke="#000" stroke-width="1.3" fill="none" shape-rendering="auto"/><path d="M1409.5 6L1415 11.5L1409.5 17L1404 11.5Z" stroke="#808080" fill="none" shape-rendering="auto"/><rect x="1422.5" y="6.5" width="11" height="10" rx="2" stroke="#808080" fill="none" shape-rendering="auto"/><rect x="1429" y="8" width="3" height="7" fill="#808080"/><text x="21" y="262.5" font-size="12" fill="#c0c0c0" text-anchor="start">抄底英雄</text><text x="99" y="262.5" font-size="12" fill="#00ff00" text-anchor="start">注意底部</text><text x="147" y="262.5" fill="#00ff00" text-anchor="start" textLength="29" lengthAdjust="spacingAndGlyphs">: 0.00</text><text x="182" y="262.5" font-size="12" fill="#ff0000" text-anchor="start">坚决持股</text><text x="230" y="262.5" fill="#ff0000" text-anchor="start" textLength="29" lengthAdjust="spacingAndGlyphs">: 0.00</text><text x="265" y="262.5" font-size="12" fill="#ffff00" text-anchor="start">谨慎观望</text><text x="313" y="262.5" fill="#ffff00" text-anchor="start" textLength="29" lengthAdjust="spacingAndGlyphs">: 0.00</text><text x="348" y="262.5" font-size="12" fill="#00ffff" text-anchor="start">果断持币</text><text x="396" y="262.5" fill="#00ffff" text-anchor="start" textLength="29" lengthAdjust="spacingAndGlyphs">: 0.00</text><text x="431" y="262.5" font-size="12" fill="#ffd8ff" text-anchor="start">趋势转强</text><text x="479" y="262.5" fill="#ffd8ff" text-anchor="start" textLength="29" lengthAdjust="spacingAndGlyphs">: 0.00</text><text x="514" y="262.5" font-size="12" fill="#ff0000" text-anchor="start">关注</text><text x="538" y="262.5" fill="#ff0000" text-anchor="start" textLength="29" lengthAdjust="spacingAndGlyphs">: 0.00</text><text x="21" y="623.5" fill="#ffffff" text-anchor="start" textLength="51.5" lengthAdjust="spacingAndGlyphs">VOLUME:</text><text x="76" y="623.5" fill="#ffffff" text-anchor="start" textLength="51.5" lengthAdjust="spacingAndGlyphs">79187.48</text><text x="133.5" y="623.5" fill="#ffffff" text-anchor="start" textLength="25" lengthAdjust="spacingAndGlyphs">MA5:</text><text x="162.5" y="623.5" fill="#ffffff" text-anchor="start" textLength="58" lengthAdjust="spacingAndGlyphs">148151.66</text><text x="226.5" y="623.5" fill="#ffff00" text-anchor="start" textLength="32" lengthAdjust="spacingAndGlyphs">MA10:</text><text x="262.5" y="623.5" fill="#ffff00" text-anchor="start" textLength="58" lengthAdjust="spacingAndGlyphs">170027.06</text><text x="42.5" y="238.8" fill="#c0c0c0" text-anchor="start">7.23</text><path d="M30 233.5H42M30 233.5L33 231M30 233.5L33 236" stroke="#c0c0c0" fill="none" shape-rendering="auto"/><text x="896" y="32.5" fill="#c0c0c0" text-anchor="start">14.25</text><path d="M881.5 25.5V21.5H884.5M882.5 22.5L885 23.5H888L890 25.5H893" stroke="#c0c0c0" fill="none" shape-rendering="auto"/><rect x="123" y="241" width="1" height="1" fill="#ff0000"/><rect x="124" y="241" width="1" height="1" fill="#ff0000"/><rect x="125" y="241" width="1" height="1" fill="#ff0000"/><rect x="126" y="241" width="1" height="1" fill="#ff0000"/><rect x="127" y="241" width="1" height="1" fill="#ff0000"/><rect x="122" y="242" width="1" height="1" fill="#ff0000"/><rect x="123" y="242" width="1" height="1" fill="#ff0000"/><rect x="123" y="243" width="1" height="1" fill="#ff0000"/><rect x="124" y="243" width="1" height="1" fill="#ff0000"/><rect x="125" y="243" width="1" height="1" fill="#ff0000"/><rect x="124" y="244" width="1" height="1" fill="#ff0000"/><rect x="125" y="244" width="1" height="1" fill="#ff0000"/><rect x="126" y="244" width="1" height="1" fill="#ff0000"/><rect x="126" y="245" width="1" height="1" fill="#ff0000"/><rect x="127" y="245" width="1" height="1" fill="#ff0000"/><rect x="126" y="246" width="1" height="1" fill="#ff0000"/><rect x="127" y="246" width="1" height="1" fill="#ff0000"/><rect x="122" y="247" width="1" height="1" fill="#ff0000"/><rect x="123" y="247" width="1" height="1" fill="#ff0000"/><rect x="124" y="247" width="1" height="1" fill="#ff0000"/><rect x="125" y="247" width="1" height="1" fill="#ff0000"/><rect x="126" y="247" width="1" height="1" fill="#ff0000"/><rect x="124" y="237" width="1" height="1" fill="#ff0000"/><rect x="123" y="238" width="3" height="1" fill="#ff0000"/><rect x="122" y="239" width="5" height="1" fill="#ff0000"/><rect x="777" y="235" width="11" height="13" fill="#880000"/><rect x="788" y="235" width="13" height="13" fill="#985000"/><text x="777.5" y="245.7" font-size="11" fill="#fff" text-anchor="start">涨</text><text x="789" y="245.7" font-size="11" fill="#fff" text-anchor="start">榜</text><rect x="1133" y="235" width="13" height="13" fill="#003878"/><text x="1134" y="245.7" font-size="11" fill="#fff" text-anchor="start">财</text><rect x="214" y="482" width="62" height="1" fill="#ffc8ff"/><path d="M214 482.5L231 475.5M258 475.5L276 482.5" stroke="#ff0000" fill="none" shape-rendering="crispEdges"/><text x="234" y="478.5" font-size="12" fill="#ff0000" text-anchor="start">抄底</text><rect x="225" y="483" width="1" height="9" fill="#ff00ff"/><rect x="224" y="484" width="1" height="1" fill="#ff00ff"/><rect x="226" y="484" width="2" height="1" fill="#ff00ff"/><rect x="234" y="483" width="2" height="1" fill="#ff00ff"/><rect x="234" y="484" width="2" height="1" fill="#ff00ff"/><rect x="233" y="485" width="4" height="1" fill="#ff00ff"/><rect x="233" y="486" width="4" height="1" fill="#ff00ff"/><rect x="232" y="487" width="6" height="1" fill="#ff00ff"/><rect x="232" y="488" width="6" height="1" fill="#ff00ff"/><rect x="231" y="489" width="8" height="1" fill="#ff00ff"/><text x="234" y="509.5" font-size="12" fill="#ffff00" text-anchor="start">准备</text><g shape-rendering="auto"><path d="M230.5 489.5H237.5L235.3 493.5H232.7Z" fill="#f8d030" stroke="#804020" stroke-width=".6"/><ellipse cx="234" cy="499.3" rx="6.2" ry="5.6" fill="#f8e070" stroke="#703020" stroke-width="1.1"/><text x="234" y="502.6" font-size="9" font-weight="bold" fill="#803030" text-anchor="middle">$</text></g><rect x="538" y="482" width="63" height="1" fill="#ffc8ff"/><path d="M538 482.5L557 476M564 469.5L569 467.5L574 468.5M580 469.5L600.5 482.5" stroke="#ff0000" fill="none" shape-rendering="crispEdges"/><text x="557" y="478.5" font-size="12" fill="#ff0000" text-anchor="start">抄底</text><rect x="549" y="484" width="1" height="9" fill="#ff00ff"/><rect x="548" y="485" width="1" height="1" fill="#ff00ff"/><rect x="550" y="485" width="2" height="1" fill="#ff00ff"/><rect x="558" y="484" width="2" height="1" fill="#ff00ff"/><rect x="558" y="485" width="2" height="1" fill="#ff00ff"/><rect x="557" y="486" width="4" height="1" fill="#ff00ff"/><rect x="557" y="487" width="4" height="1" fill="#ff00ff"/><rect x="556" y="488" width="6" height="1" fill="#ff00ff"/><rect x="556" y="489" width="6" height="1" fill="#ff00ff"/><rect x="555" y="490" width="8" height="1" fill="#ff00ff"/><text x="557" y="509.5" font-size="12" fill="#ffff00" text-anchor="start">准备</text><g shape-rendering="auto"><path d="M553.5 489.5H560.5L558.3 493.5H555.7Z" fill="#f8d030" stroke="#804020" stroke-width=".6"/><ellipse cx="557" cy="499.3" rx="6.2" ry="5.6" fill="#f8e070" stroke="#703020" stroke-width="1.1"/><text x="557" y="502.6" font-size="9" font-weight="bold" fill="#803030" text-anchor="middle">$</text></g><rect x="941" y="482" width="68" height="1" fill="#ffc8ff"/><path d="M941 482.5L968 477.5M990 477.5L1009 482.5" stroke="#ff0000" fill="none" shape-rendering="crispEdges"/><text x="967" y="480.5" font-size="12" fill="#ff0000" text-anchor="start">抄底</text><rect x="959" y="484" width="1" height="9" fill="#ff00ff"/><rect x="958" y="485" width="1" height="1" fill="#ff00ff"/><rect x="960" y="485" width="2" height="1" fill="#ff00ff"/><rect x="967" y="484" width="2" height="1" fill="#ff00ff"/><rect x="967" y="485" width="2" height="1" fill="#ff00ff"/><rect x="966" y="486" width="4" height="1" fill="#ff00ff"/><rect x="966" y="487" width="4" height="1" fill="#ff00ff"/><rect x="965" y="488" width="6" height="1" fill="#ff00ff"/><rect x="965" y="489" width="6" height="1" fill="#ff00ff"/><rect x="964" y="490" width="8" height="1" fill="#ff00ff"/><text x="978" y="509.5" font-size="12" fill="#ffff00" text-anchor="start">准备</text><g shape-rendering="auto"><path d="M974.5 489.5H981.5L979.3 493.5H976.7Z" fill="#f8d030" stroke="#804020" stroke-width=".6"/><ellipse cx="978" cy="499.3" rx="6.2" ry="5.6" fill="#f8e070" stroke="#703020" stroke-width="1.1"/><text x="978" y="502.6" font-size="9" font-weight="bold" fill="#803030" text-anchor="middle">$</text></g><rect x="1070" y="482" width="76" height="1" fill="#ffc8ff"/><path d="M1070 481.5H1113M1113 480.5H1135M1135 481.5H1146" stroke="#ff0000" fill="none" shape-rendering="crispEdges"/><rect x="1120" y="484" width="1" height="9" fill="#ff00ff"/><rect x="1119" y="485" width="1" height="1" fill="#ff00ff"/><rect x="1121" y="485" width="2" height="1" fill="#ff00ff"/><rect x="1129" y="484" width="2" height="1" fill="#ff00ff"/><rect x="1129" y="485" width="2" height="1" fill="#ff00ff"/><rect x="1128" y="486" width="4" height="1" fill="#ff00ff"/><rect x="1128" y="487" width="4" height="1" fill="#ff00ff"/><rect x="1127" y="488" width="6" height="1" fill="#ff00ff"/><rect x="1127" y="489" width="6" height="1" fill="#ff00ff"/><rect x="1126" y="490" width="8" height="1" fill="#ff00ff"/><rect x="1186" y="482" width="50" height="1" fill="#ffc8ff"/><path d="M1186 481.5H1192M1192 480.5H1196M1196 479.5H1200M1200 478.5H1204M1228 478.5H1231M1231 479.5H1233M1233 480.5H1236" stroke="#ff0000" fill="none" shape-rendering="crispEdges"/><text x="1204" y="481.5" font-size="12" fill="#ff0000" text-anchor="start">抄底</text><rect x="1196" y="485" width="1" height="9" fill="#ff00ff"/><rect x="1195" y="486" width="1" height="1" fill="#ff00ff"/><rect x="1197" y="486" width="2" height="1" fill="#ff00ff"/><rect x="1205" y="485" width="2" height="1" fill="#ff00ff"/><rect x="1205" y="486" width="2" height="1" fill="#ff00ff"/><rect x="1204" y="487" width="4" height="1" fill="#ff00ff"/><rect x="1204" y="488" width="4" height="1" fill="#ff00ff"/><rect x="1203" y="489" width="6" height="1" fill="#ff00ff"/><rect x="1203" y="490" width="6" height="1" fill="#ff00ff"/><rect x="1202" y="491" width="8" height="1" fill="#ff00ff"/><rect x="1347" y="482" width="40" height="1" fill="#ffc8ff"/><path d="M1347 481.5H1354M1354 480.5H1358M1358 479.5H1375M1375 480.5H1379M1379 481.5H1387" stroke="#ff0000" fill="none" shape-rendering="crispEdges"/><rect x="1358" y="484" width="1" height="9" fill="#ff00ff"/><rect x="1357" y="485" width="1" height="1" fill="#ff00ff"/><rect x="1359" y="485" width="2" height="1" fill="#ff00ff"/><rect x="1366" y="484" width="2" height="1" fill="#ff00ff"/><rect x="1366" y="485" width="2" height="1" fill="#ff00ff"/><rect x="1365" y="486" width="4" height="1" fill="#ff00ff"/><rect x="1365" y="487" width="4" height="1" fill="#ff00ff"/><rect x="1364" y="488" width="6" height="1" fill="#ff00ff"/><rect x="1364" y="489" width="6" height="1" fill="#ff00ff"/><rect x="1363" y="490" width="8" height="1" fill="#ff00ff"/><g fill="#fff" font-size="24" text-anchor="middle" opacity="0.23" shape-rendering="auto"><text transform="translate(56.4,124) rotate(-45)" x="0" y="0">www.cfchi.com</text><text transform="translate(301,124) rotate(-45)" x="0" y="0">www.cfchi.com</text><text transform="translate(545.6,124) rotate(-45)" x="0" y="0">www.cfchi.com</text><text transform="translate(790.2,124) rotate(-45)" x="0" y="0">www.cfchi.com</text><text transform="translate(1034.8,124) rotate(-45)" x="0" y="0">www.cfchi.com</text><text transform="translate(1281,124) rotate(-45)" x="0" y="0">www.cfchi.com</text><text transform="translate(1525,124) rotate(-45)" x="0" y="0">www.cfchi.com</text><text transform="translate(56.4,303.5) rotate(-45)" x="0" y="0">www.cfchi.com</text><text transform="translate(301,303.5) rotate(-45)" x="0" y="0">www.cfchi.com</text><text transform="translate(545.6,303.5) rotate(-45)" x="0" y="0">www.cfchi.com</text><text transform="translate(790.2,303.5) rotate(-45)" x="0" y="0">www.cfchi.com</text><text transform="translate(1034.8,303.5) rotate(-45)" x="0" y="0">www.cfchi.com</text><text transform="translate(1281,303.5) rotate(-45)" x="0" y="0">www.cfchi.com</text><text transform="translate(1525,303.5) rotate(-45)" x="0" y="0">www.cfchi.com</text><text transform="translate(56.4,483) rotate(-45)" x="0" y="0">www.cfchi.com</text><text transform="translate(301,483) rotate(-45)" x="0" y="0">www.cfchi.com</text><text transform="translate(545.6,483) rotate(-45)" x="0" y="0">www.cfchi.com</text><text transform="translate(790.2,483) rotate(-45)" x="0" y="0">www.cfchi.com</text><text transform="translate(1034.8,483) rotate(-45)" x="0" y="0">www.cfchi.com</text><text transform="translate(1281,483) rotate(-45)" x="0" y="0">www.cfchi.com</text><text transform="translate(1525,483) rotate(-45)" x="0" y="0">www.cfchi.com</text><text transform="translate(56.4,660) rotate(-45)" x="0" y="0">www.cfchi.com</text><text transform="translate(301,660) rotate(-45)" x="0" y="0">www.cfchi.com</text><text transform="translate(545.6,660) rotate(-45)" x="0" y="0">www.cfchi.com</text><text transform="translate(790.2,660) rotate(-45)" x="0" y="0">www.cfchi.com</text><text transform="translate(1034.8,660) rotate(-45)" x="0" y="0">www.cfchi.com</text><text transform="translate(1281,660) rotate(-45)" x="0" y="0">www.cfchi.com</text><text transform="translate(1525,660) rotate(-45)" x="0" y="0">www.cfchi.com</text><text transform="translate(56.4,838) rotate(-45)" x="0" y="0">www.cfchi.com</text><text transform="translate(301,838) rotate(-45)" x="0" y="0">www.cfchi.com</text><text transform="translate(545.6,838) rotate(-45)" x="0" y="0">www.cfchi.com</text><text transform="translate(790.2,838) rotate(-45)" x="0" y="0">www.cfchi.com</text><text transform="translate(1034.8,838) rotate(-45)" x="0" y="0">www.cfchi.com</text><text transform="translate(1281,838) rotate(-45)" x="0" y="0">www.cfchi.com</text><text transform="translate(1525,838) rotate(-45)" x="0" y="0">www.cfchi.com</text></g></svg></body></html>
